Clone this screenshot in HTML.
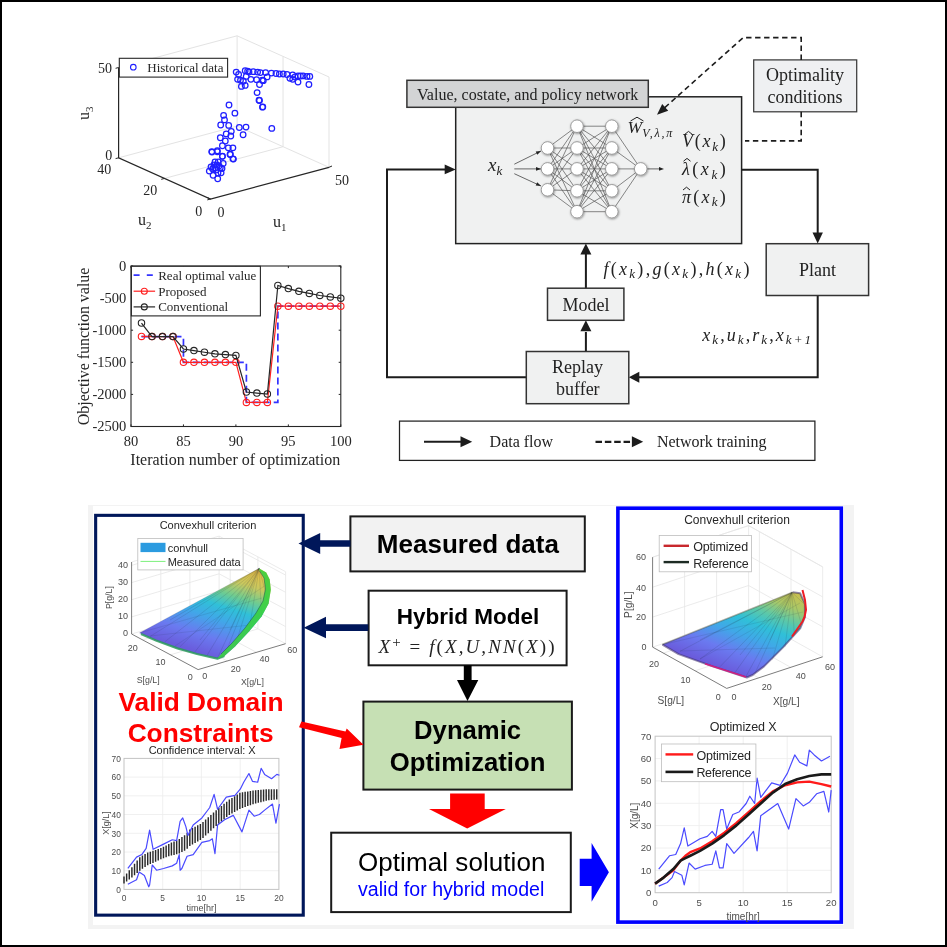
<!DOCTYPE html><html><head><meta charset="utf-8"><style>html,body{margin:0;padding:0;background:#fff;width:947px;height:947px;overflow:hidden}svg{display:block;filter:blur(0.3px)}</style></head><body>
<svg width="947" height="947" viewBox="0 0 947 947">
<rect x="0" y="0" width="947" height="947" fill="#fff"/>
<path d="M118.6,67.50000000000001 L237.1,35.800000000000026 L329.0,77.00000000000001 L329.0,167.3 M237.1,35.800000000000026 L237.1,126.10000000000002 M118.6,157.8 L237.1,126.10000000000002 L329.0,167.3" stroke="#e3e3e3" stroke-width="1" fill="none"/>
<path d="M164.55,178.4 L283.05,146.70000000000002 L283.05,56.40000000000002" stroke="#e3e3e3" stroke-width="1" fill="none"/>
<path d="M118.6,67.50000000000001 L118.6,157.8 L210.5,199.0 L329.0,167.3" stroke="#262626" stroke-width="1.2" fill="none"/>
<path d="M118.6,67.50000000000001 l-3,0.8 M118.6,157.8 l-3,0.8 M164.55,178.4 l-3.3,0.9 M210.5,199.0 l-3.2,0.9 M210.5,199.0 l-3.3,-1.5 M329.0,167.3 l3,-1.3" stroke="#262626" stroke-width="1" fill="none"/>
<g fill="none" stroke="#1f1fff" stroke-width="1.25"><circle cx="229" cy="105" r="2.8"/><circle cx="234.9" cy="113.2" r="2.8"/><circle cx="259.5" cy="100.5" r="2.8"/><circle cx="262.5" cy="107.2" r="2.8"/><circle cx="223.6" cy="115.3" r="2.8"/><circle cx="224.5" cy="119.9" r="2.8"/><circle cx="220.7" cy="125" r="2.8"/><circle cx="228.7" cy="125.4" r="2.8"/><circle cx="231.3" cy="131.3" r="2.8"/><circle cx="226.2" cy="133.9" r="2.8"/><circle cx="230.8" cy="136" r="2.8"/><circle cx="220.3" cy="137.7" r="2.8"/><circle cx="225.3" cy="141" r="2.8"/><circle cx="222.4" cy="145.7" r="2.8"/><circle cx="228.3" cy="147.8" r="2.8"/><circle cx="232.9" cy="147.8" r="2.8"/><circle cx="211.8" cy="151.6" r="2.8"/><circle cx="217.3" cy="150.7" r="2.8"/><circle cx="222.4" cy="156.2" r="2.8"/><circle cx="230" cy="154.5" r="2.8"/><circle cx="232.9" cy="158.8" r="2.8"/><circle cx="239.3" cy="127.5" r="2.8"/><circle cx="246" cy="127.1" r="2.8"/><circle cx="243.1" cy="134.7" r="2.8"/><circle cx="271.8" cy="128.4" r="2.8"/><circle cx="212" cy="152.1" r="2.8"/><circle cx="217.3" cy="151.7" r="2.8"/><circle cx="222.4" cy="156.3" r="2.8"/><circle cx="230.4" cy="154.2" r="2.8"/><circle cx="233.4" cy="159.1" r="2.8"/><circle cx="218.2" cy="161.8" r="2.8"/><circle cx="223.2" cy="163.5" r="2.8"/><circle cx="213.9" cy="164.8" r="2.8"/><circle cx="220.3" cy="167.7" r="2.8"/><circle cx="209.3" cy="171.1" r="2.8"/><circle cx="212.7" cy="169" r="2.8"/><circle cx="221.1" cy="172.8" r="2.8"/><circle cx="213.1" cy="175.3" r="2.8"/><circle cx="217.7" cy="178.7" r="2.8"/><circle cx="216.9" cy="164.8" r="2.8"/><circle cx="214.8" cy="167.7" r="2.8"/><circle cx="219" cy="166" r="2.8"/><circle cx="216" cy="170" r="2.8"/><circle cx="211" cy="167" r="2.8"/><circle cx="222" cy="168.5" r="2.8"/><circle cx="218" cy="173" r="2.8"/><circle cx="215" cy="162" r="2.8"/><circle cx="236.2" cy="72.1" r="2.8"/><circle cx="238.6" cy="74.5" r="2.8"/><circle cx="245.2" cy="70.7" r="2.8"/><circle cx="247.6" cy="71.2" r="2.8"/><circle cx="253.3" cy="71.7" r="2.8"/><circle cx="257.6" cy="72.1" r="2.8"/><circle cx="260.4" cy="72.6" r="2.8"/><circle cx="265.6" cy="72.6" r="2.8"/><circle cx="271.4" cy="73.1" r="2.8"/><circle cx="279.4" cy="74" r="2.8"/><circle cx="283.2" cy="74" r="2.8"/><circle cx="287" cy="74.5" r="2.8"/><circle cx="292.7" cy="75" r="2.8"/><circle cx="298" cy="75.9" r="2.8"/><circle cx="303.2" cy="75.9" r="2.8"/><circle cx="307" cy="76.4" r="2.8"/><circle cx="309.8" cy="76.4" r="2.8"/><circle cx="308.9" cy="84.5" r="2.8"/><circle cx="298" cy="82.1" r="2.8"/><circle cx="292.7" cy="79.3" r="2.8"/><circle cx="289.9" cy="78.3" r="2.8"/><circle cx="237.6" cy="79.3" r="2.8"/><circle cx="240.5" cy="80.2" r="2.8"/><circle cx="243.3" cy="81.2" r="2.8"/><circle cx="246.2" cy="76.4" r="2.8"/><circle cx="250.9" cy="79.3" r="2.8"/><circle cx="256.6" cy="79.7" r="2.8"/><circle cx="262.3" cy="80.2" r="2.8"/><circle cx="267.1" cy="76.9" r="2.8"/><circle cx="241.4" cy="86.4" r="2.8"/><circle cx="245.2" cy="85.4" r="2.8"/><circle cx="259.5" cy="84.5" r="2.8"/><circle cx="263.3" cy="80.7" r="2.8"/><circle cx="257.1" cy="92.6" r="2.8"/><circle cx="259" cy="100.2" r="2.8"/><circle cx="262.8" cy="106.8" r="2.8"/><circle cx="249" cy="72" r="2.8"/><circle cx="276" cy="73.5" r="2.8"/><circle cx="295" cy="77" r="2.8"/><circle cx="300.5" cy="76" r="2.8"/></g>
<rect x="119.3" y="58.3" width="108.3" height="18.8" fill="#fff" stroke="#262626" stroke-width="1.1"/>
<circle cx="133.3" cy="67.2" r="2.8" fill="none" stroke="#1f1fff" stroke-width="1.1"/>
<text x="147.3" y="72" font-size="13" fill="#262626" style="font-family:'Liberation Serif',serif">Historical data</text>
<g font-size="14" fill="#262626" style="font-family:'Liberation Serif',serif"><text x="112" y="72.5" text-anchor="end">50</text><text x="112.3" y="159.5" text-anchor="end">0</text><text x="104.3" y="174" text-anchor="middle">40</text><text x="150.3" y="195" text-anchor="middle">20</text><text x="198.7" y="215.8" text-anchor="middle">0</text><text x="220.9" y="216.8" text-anchor="middle">0</text><text x="341.9" y="185" text-anchor="middle">50</text></g>
<g font-size="16" fill="#262626" style="font-family:'Liberation Serif',serif"><text x="138" y="225">u<tspan font-size="11" dy="4">2</tspan></text><text x="273" y="227">u<tspan font-size="11" dy="4">1</tspan></text><text transform="translate(89,120) rotate(-90)">u<tspan font-size="11" dy="4">3</tspan></text></g>
<rect x="131" y="266" width="209.8" height="160.5" fill="none" stroke="#262626" stroke-width="1.1"/>
<path d="M131,266.0 l2.1,0 M340.8,266.0 l-2.1,0 M131,298.1 l2.1,0 M340.8,298.1 l-2.1,0 M131,330.2 l2.1,0 M340.8,330.2 l-2.1,0 M131,362.3 l2.1,0 M340.8,362.3 l-2.1,0 M131,394.4 l2.1,0 M340.8,394.4 l-2.1,0 M131,426.5 l2.1,0 M340.8,426.5 l-2.1,0 M131.0,426.5 l0,-2.1 M131.0,266 l0,2.1 M183.45,426.5 l0,-2.1 M183.45,266 l0,2.1 M235.9,426.5 l0,-2.1 M235.9,266 l0,2.1 M288.35,426.5 l0,-2.1 M288.35,266 l0,2.1 M340.8,426.5 l0,-2.1 M340.8,266 l0,2.1 " stroke="#262626" stroke-width="1" fill="none"/>
<path d="M141.49,336.62 L183.45,336.62 L183.45,362.3 L246.39,362.3 L246.39,402.42 L277.86,402.42 L277.86,306.19 L340.8,306.19" stroke="#3333ff" stroke-width="1.7" stroke-dasharray="7,4" fill="none"/>
<path d="M141.49,336.43 L151.98,336.62 L162.47,336.62 L172.96,336.62 L183.45,362.3 L193.94,362.3 L204.43,362.3 L214.92,362.3 L225.41,362.3 L235.9,362.3 L246.39,402.42 L256.88,402.42 L267.37,402.42 L277.86,306.19 L288.35,306.19 L298.84,306.19 L309.33,306.19 L319.82,306.19 L330.31,306.19 L340.8,306.19" stroke="#ff2020" stroke-width="1.2" fill="none"/>
<g fill="none" stroke="#ff2020" stroke-width="1.1"><circle cx="141.49" cy="336.43" r="3.2"/><circle cx="151.98" cy="336.62" r="3.2"/><circle cx="162.47" cy="336.62" r="3.2"/><circle cx="172.96" cy="336.62" r="3.2"/><circle cx="183.45" cy="362.3" r="3.2"/><circle cx="193.94" cy="362.3" r="3.2"/><circle cx="204.43" cy="362.3" r="3.2"/><circle cx="214.92" cy="362.3" r="3.2"/><circle cx="225.41" cy="362.3" r="3.2"/><circle cx="235.9" cy="362.3" r="3.2"/><circle cx="246.39" cy="402.42" r="3.2"/><circle cx="256.88" cy="402.42" r="3.2"/><circle cx="267.37" cy="402.42" r="3.2"/><circle cx="277.86" cy="306.19" r="3.2"/><circle cx="288.35" cy="306.19" r="3.2"/><circle cx="298.84" cy="306.19" r="3.2"/><circle cx="309.33" cy="306.19" r="3.2"/><circle cx="319.82" cy="306.19" r="3.2"/><circle cx="330.31" cy="306.19" r="3.2"/><circle cx="340.8" cy="306.19" r="3.2"/></g>
<path d="M141.49,323.01 L151.98,336.62 L162.47,336.62 L172.96,336.62 L183.45,349.01 L193.94,350.62 L204.43,352.22 L214.92,353.83 L225.41,354.6 L235.9,355.43 L246.39,392.02 L256.88,393.12 L267.37,394.01 L277.86,285.52 L288.35,288.6 L298.84,291.36 L309.33,293.41 L319.82,295.47 L330.31,296.88 L340.8,298.23" stroke="#262626" stroke-width="1.2" fill="none"/>
<g fill="none" stroke="#262626" stroke-width="1.1"><circle cx="141.49" cy="323.01" r="3.2"/><circle cx="151.98" cy="336.62" r="3.2"/><circle cx="162.47" cy="336.62" r="3.2"/><circle cx="172.96" cy="336.62" r="3.2"/><circle cx="183.45" cy="349.01" r="3.2"/><circle cx="193.94" cy="350.62" r="3.2"/><circle cx="204.43" cy="352.22" r="3.2"/><circle cx="214.92" cy="353.83" r="3.2"/><circle cx="225.41" cy="354.6" r="3.2"/><circle cx="235.9" cy="355.43" r="3.2"/><circle cx="246.39" cy="392.02" r="3.2"/><circle cx="256.88" cy="393.12" r="3.2"/><circle cx="267.37" cy="394.01" r="3.2"/><circle cx="277.86" cy="285.52" r="3.2"/><circle cx="288.35" cy="288.6" r="3.2"/><circle cx="298.84" cy="291.36" r="3.2"/><circle cx="309.33" cy="293.41" r="3.2"/><circle cx="319.82" cy="295.47" r="3.2"/><circle cx="330.31" cy="296.88" r="3.2"/><circle cx="340.8" cy="298.23" r="3.2"/></g>
<rect x="131.4" y="266.3" width="129" height="49.6" fill="#fff" stroke="#262626" stroke-width="1.1"/>
<path d="M133.6,275.1 h19.2" stroke="#3333ff" stroke-width="1.6" stroke-dasharray="6,7.2" fill="none"/>
<path d="M133.6,291.2 h21.5" stroke="#ff2020" stroke-width="1.2"/><circle cx="144.3" cy="291.2" r="3" fill="none" stroke="#ff2020" stroke-width="1.1"/>
<path d="M133.6,306.9 h21.5" stroke="#262626" stroke-width="1.2"/><circle cx="144.3" cy="306.9" r="3" fill="none" stroke="#262626" stroke-width="1.1"/>
<g font-size="13" fill="#262626" style="font-family:'Liberation Serif',serif"><text x="158.2" y="280.2">Real optimal value</text><text x="158.2" y="295.5">Proposed</text><text x="158.2" y="311.2">Conventional</text></g>
<g font-size="14.5" fill="#262626" style="font-family:'Liberation Serif',serif"><text x="126.3" y="270.8" text-anchor="end">0</text><text x="126.3" y="302.90000000000003" text-anchor="end">-500</text><text x="126.3" y="335.0" text-anchor="end">-1000</text><text x="126.3" y="367.1" text-anchor="end">-1500</text><text x="126.3" y="399.2" text-anchor="end">-2000</text><text x="126.3" y="431.3" text-anchor="end">-2500</text><text x="131.0" y="445.8" text-anchor="middle">80</text><text x="183.45" y="445.8" text-anchor="middle">85</text><text x="235.9" y="445.8" text-anchor="middle">90</text><text x="288.35" y="445.8" text-anchor="middle">95</text><text x="340.8" y="445.8" text-anchor="middle">100</text></g>
<text x="130.3" y="464.6" font-size="16" textLength="210" fill="#262626" style="font-family:'Liberation Serif',serif">Iteration number of optimization</text>
<text transform="translate(89,425.2) rotate(-90)" font-size="16" textLength="157.6" fill="#262626" style="font-family:'Liberation Serif',serif">Objective function value</text>
<rect x="455.7" y="96.8" width="285.9" height="146.8" fill="#f0f1f1" stroke="#222" stroke-width="1.5"/>
<rect x="406.9" y="80.3" width="241.4" height="27" fill="#d3d4d5" stroke="#333" stroke-width="1.5"/>
<text x="417" y="99.7" font-size="16" textLength="221.3" fill="#222" style="font-family:'Liberation Serif',serif">Value, costate, and policy network</text>
<rect x="753.7" y="59.9" width="103" height="51.9" fill="#eff0f2" stroke="#3a3a3a" stroke-width="1.25"/>
<g font-size="18" text-anchor="middle" fill="#222" style="font-family:'Liberation Serif',serif"><text x="805" y="81.3">Optimality</text><text x="805" y="102.8">conditions</text></g>
<path d="M801.2,59.9 V37.6 H743.2 L662.5,109.6" stroke="#1c1c1c" stroke-width="1.6" stroke-dasharray="5.4,3.6" fill="none"/>
<path d="M657.00,114.70 L662.20,104.01 L668.20,110.72 Z" fill="#1c1c1c"/>
<path d="M801.2,111.8 V140.9 H745" stroke="#1c1c1c" stroke-width="1.6" stroke-dasharray="5.4,3.6" fill="none"/>
<path d="M526.3,377.2 H387 V169.4 H445" stroke="#1c1c1c" stroke-width="2" fill="none"/>
<path d="M455.70,169.40 L444.70,174.20 L444.70,164.60 Z" fill="#1c1c1c"/>
<path d="M741.6,169.7 H817.7 V233" stroke="#1c1c1c" stroke-width="2" fill="none"/>
<path d="M817.70,243.60 L812.50,232.60 L822.90,232.60 Z" fill="#1c1c1c"/>
<path d="M817.7,295.5 V377.2 H639" stroke="#1c1c1c" stroke-width="2" fill="none"/>
<path d="M628.80,377.20 L639.30,371.70 L639.30,382.70 Z" fill="#1c1c1c"/>
<path d="M585.9,351.5 V332 M585.9,288.2 V254" stroke="#1c1c1c" stroke-width="2" fill="none"/>
<path d="M585.90,320.30 L591.40,331.30 L580.40,331.30 Z" fill="#1c1c1c"/>
<path d="M585.90,243.60 L591.40,254.60 L580.40,254.60 Z" fill="#1c1c1c"/>
<rect x="766.2" y="243.7" width="102.4" height="51.8" fill="#f0f1f1" stroke="#333" stroke-width="1.5"/>
<rect x="547.5" y="288.2" width="76.4" height="32.1" fill="#f0f1f1" stroke="#333" stroke-width="1.5"/>
<rect x="526.3" y="351.5" width="102.5" height="52.2" fill="#f0f1f1" stroke="#333" stroke-width="1.5"/>
<g font-size="18" text-anchor="middle" fill="#222" style="font-family:'Liberation Serif',serif"><text x="817.6" y="276">Plant</text><text x="585.9" y="311.3">Model</text><text x="577.5" y="373">Replay</text><text x="577.8" y="394.7">buffer</text></g>
<rect x="399.5" y="421.1" width="415.4" height="39.3" fill="#fff" stroke="#222" stroke-width="1.25"/>
<path d="M424,441.8 H462" stroke="#1c1c1c" stroke-width="2"/><path d="M472.20,441.80 L460.50,447.30 L460.50,436.30 Z" fill="#1c1c1c"/>
<path d="M595.5,441.8 H630.5" stroke="#1c1c1c" stroke-width="2.2" stroke-dasharray="6.5,2.85"/><path d="M643.20,441.80 L631.90,447.30 L631.90,436.30 Z" fill="#1c1c1c"/>
<g font-size="16" fill="#222" style="font-family:'Liberation Serif',serif"><text x="489.6" y="447.2" textLength="63.4">Data flow</text><text x="657" y="447.2" textLength="109.4">Network training</text></g>
<path d="M547.5,148 L577,126.2 M547.5,148 L577,148 M547.5,148 L577,168.9 M547.5,148 L577,190.8 M547.5,148 L577,211.7 M547.5,168.9 L577,126.2 M547.5,168.9 L577,148 M547.5,168.9 L577,168.9 M547.5,168.9 L577,190.8 M547.5,168.9 L577,211.7 M547.5,189.8 L577,126.2 M547.5,189.8 L577,148 M547.5,189.8 L577,168.9 M547.5,189.8 L577,190.8 M547.5,189.8 L577,211.7 M577,126.2 L611.8,126.2 M577,126.2 L611.8,148 M577,126.2 L611.8,168.9 M577,126.2 L611.8,190.8 M577,126.2 L611.8,211.7 M577,148 L611.8,126.2 M577,148 L611.8,148 M577,148 L611.8,168.9 M577,148 L611.8,190.8 M577,148 L611.8,211.7 M577,168.9 L611.8,126.2 M577,168.9 L611.8,148 M577,168.9 L611.8,168.9 M577,168.9 L611.8,190.8 M577,168.9 L611.8,211.7 M577,190.8 L611.8,126.2 M577,190.8 L611.8,148 M577,190.8 L611.8,168.9 M577,190.8 L611.8,190.8 M577,190.8 L611.8,211.7 M577,211.7 L611.8,126.2 M577,211.7 L611.8,148 M577,211.7 L611.8,168.9 M577,211.7 L611.8,190.8 M577,211.7 L611.8,211.7 M611.8,126.2 L640.7,168.9 M611.8,148 L640.7,168.9 M611.8,168.9 L640.7,168.9 M611.8,190.8 L640.7,168.9 M611.8,211.7 L640.7,168.9 " stroke="#555" stroke-width="0.7" fill="none"/>
<path d="M514.3,164.2 L541,151" stroke="#444" stroke-width="0.8"/><path d="M541.00,151.00 L537.32,154.83 L535.72,151.60 Z" fill="#222"/>
<path d="M514.3,168.9 L541,168.9" stroke="#444" stroke-width="0.8"/><path d="M541.00,168.90 L536.00,170.70 L536.00,167.10 Z" fill="#222"/>
<path d="M514.3,173.7 L541,186" stroke="#444" stroke-width="0.8"/><path d="M541.00,186.00 L535.71,185.54 L537.21,182.27 Z" fill="#222"/>
<path d="M647.3,168.9 H660" stroke="#444" stroke-width="0.8"/><path d="M664.00,168.90 L659.00,170.70 L659.00,167.10 Z" fill="#222"/>
<defs><filter id="sh" x="-50%" y="-50%" width="200%" height="200%"><feDropShadow dx="0.6" dy="0.8" stdDeviation="0.8" flood-color="#000" flood-opacity="0.45"/></filter></defs>
<g fill="#fff" stroke="#888" stroke-width="0.8" filter="url(#sh)"><circle cx="547.5" cy="148" r="6.3"/><circle cx="547.5" cy="168.9" r="6.3"/><circle cx="547.5" cy="189.8" r="6.3"/><circle cx="577" cy="126.2" r="6.3"/><circle cx="577" cy="148" r="6.3"/><circle cx="577" cy="168.9" r="6.3"/><circle cx="577" cy="190.8" r="6.3"/><circle cx="577" cy="211.7" r="6.3"/><circle cx="611.8" cy="126.2" r="6.3"/><circle cx="611.8" cy="148" r="6.3"/><circle cx="611.8" cy="168.9" r="6.3"/><circle cx="611.8" cy="190.8" r="6.3"/><circle cx="611.8" cy="211.7" r="6.3"/><circle cx="640.7" cy="168.9" r="6.3"/></g>
<text x="488" y="171" font-size="19" fill="#222" style="font-family:'Liberation Serif',serif;font-style:italic">x<tspan font-size="13" dy="3.6">k</tspan></text>
<text x="627.6" y="132.8" font-size="17.5" fill="#222" style="font-family:'Liberation Serif',serif;font-style:italic">W<tspan font-size="12" dy="4.4" textLength="30">V,λ,π</tspan></text>
<path d="M630.5,121 L637,117.2 L643.5,121" stroke="#222" stroke-width="1" fill="none"/>
<text x="682" y="147.4" font-size="18" textLength="43.7" fill="#222" style="font-family:'Liberation Serif',serif;font-style:italic">V<tspan style="font-style:normal">(</tspan>x<tspan font-size="13" dy="3.3">k</tspan><tspan dy="-3.3" style="font-style:normal">)</tspan></text>
<text x="682" y="175.3" font-size="18" textLength="43.7" fill="#222" style="font-family:'Liberation Serif',serif;font-style:italic">λ<tspan style="font-style:normal">(</tspan>x<tspan font-size="13" dy="3.3">k</tspan><tspan dy="-3.3" style="font-style:normal">)</tspan></text>
<text x="682" y="203.1" font-size="18" textLength="43.7" fill="#222" style="font-family:'Liberation Serif',serif;font-style:italic">π<tspan style="font-style:normal">(</tspan>x<tspan font-size="13" dy="3.3">k</tspan><tspan dy="-3.3" style="font-style:normal">)</tspan></text>
<path d="M685,134.2 L688.5,131.4 L692,134.2 M683.5,161.2 L687,158.4 L690.5,161.2 M683,190 L686.5,187.2 L690,190" stroke="#222" stroke-width="1" fill="none"/>
<text x="603.4" y="275" font-size="18" textLength="146" fill="#222" style="font-family:'Liberation Serif',serif;font-style:italic">f<tspan style="font-style:normal">(</tspan>x<tspan font-size="13" dy="3.3">k</tspan><tspan dy="-3.3" style="font-style:normal">),</tspan>g<tspan style="font-style:normal">(</tspan>x<tspan font-size="13" dy="3.3">k</tspan><tspan dy="-3.3" style="font-style:normal">),</tspan>h<tspan style="font-style:normal">(</tspan>x<tspan font-size="13" dy="3.3">k</tspan><tspan dy="-3.3" style="font-style:normal">)</tspan></text>
<text x="702.2" y="341" font-size="18" textLength="108.8" fill="#222" style="font-family:'Liberation Serif',serif;font-style:italic">x<tspan font-size="13" dy="3.3">k</tspan><tspan dy="-3.3" style="font-style:normal">,</tspan>u<tspan font-size="13" dy="3.3">k</tspan><tspan dy="-3.3" style="font-style:normal">,</tspan>r<tspan font-size="13" dy="3.3">k</tspan><tspan dy="-3.3" style="font-style:normal">,</tspan>x<tspan font-size="13" dy="3.3">k+1</tspan></text>
<rect x="88" y="505" width="766" height="424" fill="#f3f3f3"/>
<rect x="93" y="506" width="751" height="419" fill="#fff"/>
<rect x="95.65" y="515.35" width="207.6" height="399.8" fill="#fff" stroke="#00175a" stroke-width="3.1"/>
<rect x="617.9" y="508.2" width="223.4" height="413.9" fill="#fff" stroke="#0000ff" stroke-width="3.6"/>
<rect x="350.4" y="516.4" width="234.4" height="55" fill="#f2f2f2" stroke="#1a1a1a" stroke-width="2"/>
<text x="467.9" y="553.4" font-size="26" text-anchor="middle" fill="#000" style="font-family:'Liberation Sans',sans-serif;font-weight:bold">Measured data</text>
<rect x="368.6" y="590.7" width="198" height="74.6" fill="#fff" stroke="#1a1a1a" stroke-width="2"/>
<text x="467.9" y="623.5" font-size="22.5" text-anchor="middle" fill="#000" style="font-family:'Liberation Sans',sans-serif;font-weight:bold">Hybrid Model</text>
<text x="378.5" y="653" font-size="19" textLength="176" lengthAdjust="spacing" fill="#222" style="font-family:'Liberation Serif',serif;font-style:italic">X<tspan font-size="15" dy="-6.5" style="font-style:normal">+</tspan><tspan dy="6.5" style="font-style:normal"> = </tspan>f<tspan style="font-style:normal">(</tspan>X,U,NN<tspan style="font-style:normal">(</tspan>X<tspan style="font-style:normal">))</tspan></text>
<rect x="363.4" y="701.6" width="208.5" height="88" fill="#c6e0b4" stroke="#1a1a1a" stroke-width="2"/>
<g font-size="25.7" text-anchor="middle" fill="#000" style="font-family:'Liberation Sans',sans-serif;font-weight:bold"><text x="467.6" y="739.1">Dynamic</text><text x="467.6" y="770.8">Optimization</text></g>
<rect x="331.2" y="832.7" width="239.6" height="79.4" fill="#fff" stroke="#1a1a1a" stroke-width="2"/>
<text x="451.7" y="870.6" font-size="26" text-anchor="middle" textLength="187.5" fill="#000" style="font-family:'Liberation Sans',sans-serif">Optimal solution</text>
<text x="451.2" y="895.9" font-size="19.6" text-anchor="middle" textLength="186.3" fill="#0000ff" style="font-family:'Liberation Sans',sans-serif">valid for hybrid model</text>
<path d="M350.4,540.3 H320.2 V533 L298.5,543.6 L320.2,554 V546.8 H350.4 Z" fill="#00175a"/>
<path d="M368.2,624.3 H326 V616.7 L303.7,627.7 L326,638.3 V631.1 H368.2 Z" fill="#00175a"/>
<path d="M463.8,665.3 H471.6 V679.9 H478.3 L467.5,701 L457,679.9 H463.8 Z" fill="#000"/>
<path d="M450.1,793.5 H484.7 V809.1 H505.8 L467.2,828.6 L429,809.1 H450.1 Z" fill="#f00"/>
<path d="M579.7,858.7 H591.6 V843 L608.9,872.2 L591.6,901.8 V886.1 H579.7 Z" fill="#00f"/>
<path d="M301.4,721.5 L345.5,731.6 L346.7,728.5 L363.5,744.7 L339.5,749 L341.6,738 L299,727.3 Z" fill="#f00"/>
<g font-size="26.3" text-anchor="middle" fill="#f00" style="font-family:'Liberation Sans',sans-serif;font-weight:bold"><text x="201" y="710.9">Valid Domain</text><text x="200.7" y="742">Constraints</text></g>
<text x="208" y="528.8" font-size="11" text-anchor="middle" textLength="96.7" fill="#262626" style="font-family:'Liberation Sans',sans-serif">Convexhull criterion</text>
<path d="M131.6,562.0 L219.1,536.1 M219.1,536.1 L285.6,571.7 M219.1,608.1 L219.1,536.1 M285.6,643.7 L285.6,571.7 M131.6,634.0 L219.1,608.1 M219.1,608.1 L285.6,643.7 M227.3,661.0 L160.8,625.4 M160.8,625.4 L160.8,553.4 M256.4,652.3 L189.9,616.7 M189.9,616.7 L189.9,544.7 M170.4,654.8 L257.9,628.9 M257.9,628.9 L257.9,556.9 M142.7,639.9 L230.2,614.0 M230.2,614.0 L230.2,542.0 M131.6,616.9 L219.1,591.0 M219.1,591.0 L285.6,626.6 M131.6,599.7 L219.1,573.8 M219.1,573.8 L285.6,609.4 M131.6,582.6 L219.1,556.7 M219.1,556.7 L285.6,592.3 M131.6,565.4 L219.1,539.5 M219.1,539.5 L285.6,575.1 " stroke="#e6e6e6" stroke-width="0.8" fill="none"/>
<path d="M131.6,562.0 L131.6,634.0 L198.1,669.6 L285.6,643.7" stroke="#5a5a5a" stroke-width="0.8" fill="none"/>
<g font-size="9" fill="#4d4d4d" style="font-family:'Liberation Sans',sans-serif"><text x="123" y="567.5" text-anchor="middle">40</text><text x="123" y="584.6" text-anchor="middle">30</text><text x="123" y="601.9" text-anchor="middle">20</text><text x="123" y="619.2" text-anchor="middle">10</text><text x="125.5" y="636.2" text-anchor="middle">0</text><text x="132.7" y="650.7" text-anchor="middle">20</text><text x="160.4" y="665.1" text-anchor="middle">10</text><text x="190.3" y="679.5" text-anchor="middle">0</text><text x="204.8" y="679.2" text-anchor="middle">0</text><text x="235.8" y="671.7" text-anchor="middle">20</text><text x="264.6" y="662.2" text-anchor="middle">40</text><text x="292.3" y="653.3" text-anchor="middle">60</text></g>
<g font-size="8.8" fill="#4d4d4d" style="font-family:'Liberation Sans',sans-serif"><text x="148.2" y="682.6" text-anchor="middle">S[g/L]</text><text x="252.4" y="684.6" text-anchor="middle">X[g/L]</text><text transform="translate(112.3,597.6) rotate(-90)" text-anchor="middle">P[g/L]</text></g>
<defs><linearGradient id="hg" gradientUnits="userSpaceOnUse" x1="178.5" y1="645.7" x2="209" y2="552.2"><stop offset="0" stop-color="#6a5cdc"/><stop offset="0.18" stop-color="#6a7af0"/><stop offset="0.38" stop-color="#40a8e8"/><stop offset="0.52" stop-color="#30c0d8"/><stop offset="0.66" stop-color="#70cc90"/><stop offset="0.8" stop-color="#c8c860"/><stop offset="1" stop-color="#f0c040"/></linearGradient><linearGradient id="hg2" gradientUnits="userSpaceOnUse" x1="704" y1="661" x2="739.3" y2="571.3"><stop offset="0" stop-color="#6a5cdc"/><stop offset="0.2" stop-color="#6a7af0"/><stop offset="0.4" stop-color="#40a8e8"/><stop offset="0.56" stop-color="#30c0d8"/><stop offset="0.7" stop-color="#5cc8a8"/><stop offset="0.85" stop-color="#a8c868"/><stop offset="1" stop-color="#c8c050"/></linearGradient></defs>
<path d="M139.5,632.9 L259.2,568.4 L266.2,572.4 L269.7,579.4 L270.8,589.8 L268.5,603.8 L261.6,616.6 L248.8,631.7 L234.8,646.8 L224.4,656 L217.4,658.6 L197,654 L177.5,648.4 L156,640.5 Z" fill="url(#hg)"/>
<path d="M259.2,568.4 L139.5,632.9 M259.2,568.4 L150,636.5 M259.2,568.4 L165,641.6 M259.2,568.4 L180,646.7 M259.2,568.4 L195,651.8 M259.2,568.4 L207,655.5 M259.2,568.4 L217.4,658.4 M259.2,568.4 L224.4,656 M259.2,568.4 L234.8,646.8 M259.2,568.4 L248.8,631.7 M259.2,568.4 L261.6,616.6 M259.2,568.4 L268.5,603.8 M259.2,568.4 L170,620 M259.2,568.4 L200,640 M259.2,568.4 L230,630 " stroke="#1a2a40" stroke-opacity="0.2" stroke-width="0.7" fill="none"/>
<path d="M139.5,632.9 L262,598 M175,646 L266,585 M150,636 L250,625" stroke="#1a2a40" stroke-opacity="0.16" stroke-width="0.7" fill="none"/>
<path d="M141,634 L156,640.5 L177.5,648.4 L197,654 L217.4,658.6 L224.4,656" stroke="#2a9a5a" stroke-opacity="0.85" stroke-width="2.2" fill="none" stroke-linejoin="round"/>
<path d="M259.2,568.4 L266.2,572.4 L269.7,579.4 L270.8,589.8 L268.5,603.8 L261.6,616.6 L248.8,631.7 L234.8,646.8 L224.4,656 L217.4,658.4 L221,654 L232,643 L245,628 L256,613 L263,601 L265.5,589 L264,578 L259.2,570 Z" fill="#3ad040" fill-opacity="0.9"/>
<path d="M259.5,571 L264,578 L265.5,589 L263,601 L256,613 L245,628 L232,643 L221,654" stroke="#205a50" stroke-opacity="0.55" stroke-width="1" fill="none"/>
<rect x="137.8" y="538.4" width="105.3" height="31.5" fill="#fff" stroke="#bdbdbd" stroke-width="0.8"/>
<rect x="140.5" y="542.8" width="25" height="9.3" fill="#2b9be0"/><path d="M140.5,561.4 h25" stroke="#7cf07c" stroke-width="1"/>
<g font-size="11" fill="#262626" style="font-family:'Liberation Sans',sans-serif"><text x="167.7" y="551.5">convhull</text><text x="167.7" y="566.4" textLength="73">Measured data</text></g>
<text x="737" y="523.8" font-size="12" text-anchor="middle" textLength="105.7" fill="#262626" style="font-family:'Liberation Sans',sans-serif">Convexhull criterion</text>
<path d="M652.6,557.2 L748.6,525.6 M748.6,525.6 L822.7,566.9 M748.6,615.5 L748.6,525.6 M822.7,656.8 L822.7,566.9 M652.6,647.1 L748.6,615.5 M748.6,615.5 L822.7,656.8 M758.7,677.9 L684.6,636.6 M684.6,636.6 L684.6,546.7 M790.7,667.3 L716.6,626.0 M716.6,626.0 L716.6,536.1 M695.0,670.8 L791.0,639.2 M791.0,639.2 L791.0,549.3 M663.4,653.1 L759.4,621.5 M759.4,621.5 L759.4,531.6 M652.6,617.1 L748.6,585.5 M748.6,585.5 L822.7,626.8 M652.6,587.2 L748.6,555.6 M748.6,555.6 L822.7,596.9 M652.6,557.2 L748.6,525.6 M748.6,525.6 L822.7,566.9 " stroke="#e6e6e6" stroke-width="0.8" fill="none"/>
<path d="M652.6,557.2 L652.6,647.1 L726.7,688.4 L822.7,656.8" stroke="#5a5a5a" stroke-width="0.8" fill="none"/>
<g font-size="9" fill="#4d4d4d" style="font-family:'Liberation Sans',sans-serif"><text x="641" y="560.4" text-anchor="middle">60</text><text x="641" y="590.8" text-anchor="middle">40</text><text x="641" y="620.4" text-anchor="middle">20</text><text x="644" y="650.3" text-anchor="middle">0</text><text x="653.9" y="667.3" text-anchor="middle">20</text><text x="685.4" y="683.1" text-anchor="middle">10</text><text x="718.2" y="700.1" text-anchor="middle">0</text><text x="734" y="700.2" text-anchor="middle">0</text><text x="766.8" y="690.4" text-anchor="middle">20</text><text x="800.8" y="679.4" text-anchor="middle">40</text><text x="830" y="669.7" text-anchor="middle">60</text></g>
<g font-size="10.2" fill="#4d4d4d" style="font-family:'Liberation Sans',sans-serif"><text x="670.9" y="704.2" text-anchor="middle">S[g/L]</text><text x="786.2" y="705.4" text-anchor="middle">X[g/L]</text><text transform="translate(632.2,604.6) rotate(-90)" text-anchor="middle">P[g/L]</text></g>
<path d="M662.4,644.6 L792.6,592.3 L800.2,593.3 L804.9,603.7 L804.9,617 L800.2,628.4 L783,647.4 L764,666.4 L752.6,675 L746.9,677.5 L712.7,666.4 L678.5,654.1 Z" fill="url(#hg2)"/>
<path d="M792,592.4 L662.4,644.6 M792,592.4 L680,651.3 M792,592.4 L700,659 M792,592.4 L720,666.7 M792,592.4 L735,672.5 M792,592.4 L745.5,677.2 M792,592.4 L754.8,673.7 M792,592.4 L772.3,659.8 M792,592.4 L785,647 M792,592.4 L794.3,635.4 M792,592.4 L801.3,623.8 M792,592.4 L805.4,605.2 M792,592.4 L700,640 M792,592.4 L740,655 M792,592.4 L770,640 " stroke="#1a2a40" stroke-opacity="0.2" stroke-width="0.7" fill="none"/>
<path d="M662.4,644.6 L803,612 M700,659 L800,603 M680,651 L775,648" stroke="#1a2a40" stroke-opacity="0.16" stroke-width="0.7" fill="none"/>
<path d="M792.6,592.3 L800.2,593.3 L804.9,603.7 L804.9,617 L800.2,628.4 L783,647.4 L764,666.4 L752.6,675 L746.9,677.5 L712.7,666.4 L678.5,654.1 L662.4,644.6" stroke="#3a2a6a" stroke-opacity="0.55" stroke-width="2" fill="none" stroke-linejoin="round"/>
<path d="M802.5,590.1 L805,600 L806,609.8 L804.5,617 L802.5,621.5 L798,628 L792,636.5" stroke="#ee1c24" stroke-width="2" fill="none" stroke-linejoin="round"/>
<path d="M662.4,644.6 L792.6,592.3" stroke="#505030" stroke-opacity="0.35" stroke-width="1.6" fill="none"/>
<path d="M705,663.8 L746,677" stroke="#d02080" stroke-width="1.6" fill="none"/>
<rect x="659.2" y="535.4" width="92.3" height="36.4" fill="#fff" stroke="#bdbdbd" stroke-width="0.8"/>
<path d="M663.6,545.8 h25.4" stroke="#c8282d" stroke-width="2.4"/><path d="M663.6,562.1 h25.4" stroke="#1d2b24" stroke-width="2.4"/>
<g font-size="12.5" fill="#262626" style="font-family:'Liberation Sans',sans-serif"><text x="693.2" y="551.3" textLength="54.9">Optimized</text><text x="693.2" y="567.8" textLength="55.4">Reference</text></g>
<path d="M162.7,758.4 V889.4 M201.4,758.4 V889.4 M240.2,758.4 V889.4 M124.0,870.7 H278.9 M124.0,852.0 H278.9 M124.0,833.3 H278.9 M124.0,814.5 H278.9 M124.0,795.8 H278.9 M124.0,777.1 H278.9 " stroke="#ececec" stroke-width="0.8" fill="none"/>
<rect x="124.0" y="758.4" width="154.9" height="131.0" fill="none" stroke="#c4c4c4" stroke-width="1"/>
<text x="202.2" y="754.3" font-size="11" text-anchor="middle" textLength="107" fill="#262626" style="font-family:'Liberation Sans',sans-serif">Confidence interval: X</text>
<g font-size="8.4" fill="#4d4d4d" style="font-family:'Liberation Sans',sans-serif"><text x="120.8" y="892.6" text-anchor="end">0</text><text x="120.8" y="873.9" text-anchor="end">10</text><text x="120.8" y="855.2" text-anchor="end">20</text><text x="120.8" y="836.5" text-anchor="end">30</text><text x="120.8" y="817.7" text-anchor="end">40</text><text x="120.8" y="799.0" text-anchor="end">50</text><text x="120.8" y="780.3" text-anchor="end">60</text><text x="120.8" y="761.6" text-anchor="end">70</text><text x="124.0" y="900.5" text-anchor="middle">0</text><text x="162.7" y="900.5" text-anchor="middle">5</text><text x="201.4" y="900.5" text-anchor="middle">10</text><text x="240.2" y="900.5" text-anchor="middle">15</text><text x="278.9" y="900.5" text-anchor="middle">20</text></g>
<g font-size="9" fill="#4d4d4d" style="font-family:'Liberation Sans',sans-serif"><text x="201.4" y="911" text-anchor="middle">time[hr]</text><text transform="translate(108.5,823) rotate(-90)" text-anchor="middle">X[g/L]</text></g>
<path d="M124.00,883.60 L124.00,876.49 M126.63,881.59 L126.63,873.40 M129.27,879.59 L129.27,870.32 M131.90,877.57 L131.90,867.21 M134.53,875.24 L134.53,863.81 M137.17,872.92 L137.17,860.40 M139.80,870.66 L139.80,857.21 M142.43,868.81 L142.43,855.62 M145.07,866.97 L145.07,854.03 M147.70,865.24 L147.70,852.56 M150.33,864.10 L150.33,851.67 M152.97,862.95 L152.97,850.78 M155.60,861.79 L155.60,849.88 M158.23,860.58 L158.23,848.92 M160.87,859.37 L160.87,847.97 M163.50,858.24 L163.50,846.86 M166.13,857.29 L166.13,845.40 M168.77,856.33 L168.77,843.94 M171.40,855.51 L171.40,842.61 M174.03,854.94 L174.03,841.53 M176.67,854.37 L176.67,840.44 M179.30,853.45 L179.30,839.02 M181.93,852.05 L181.93,837.11 M184.57,850.65 L184.57,835.20 M187.20,848.66 L187.20,832.70 M189.83,845.98 L189.83,829.51 M192.47,844.50 L192.47,828.11 M195.10,843.01 L195.10,826.71 M197.73,841.53 L197.73,825.31 M200.37,840.04 L200.37,823.91 M203.00,838.01 L203.00,821.96 M205.63,835.59 L205.63,819.61 M208.27,833.17 L208.27,817.25 M210.90,830.74 L210.90,814.90 M213.53,828.32 L213.53,812.55 M216.17,825.90 L216.17,810.20 M218.80,823.65 L218.80,808.02 M221.43,821.47 L221.43,805.91 M224.07,819.28 L224.07,803.80 M226.70,817.10 L226.70,801.68 M229.33,814.92 L229.33,799.57 M231.97,813.42 L231.97,797.89 M234.60,811.92 L234.60,796.21 M237.23,810.42 L237.23,794.53 M239.87,808.92 L239.87,792.84 M242.50,807.94 L242.50,792.26 M245.13,807.03 L245.13,791.83 M247.77,806.12 L247.77,791.39 M250.40,805.22 L250.40,790.96 M253.03,804.31 L253.03,790.52 M255.66,803.53 L255.66,790.22 M258.30,802.85 L258.30,790.00 M260.93,802.16 L260.93,789.79 M263.56,801.47 L263.56,789.58 M266.20,800.79 L266.20,789.37 M268.83,800.36 L268.83,789.28 M271.46,800.10 L271.46,789.28 M274.10,799.85 L274.10,789.28 M276.73,799.59 L276.73,789.28 " stroke="#2a2a2a" stroke-width="1.45" fill="none"/>
<path d="M127.84,868.49 L136.55,857.16 L141.78,854.55 L146.14,848.45 L149.62,830.15 L153.11,849.32 L163.56,844.09 L172.27,839.74 L176.63,840.61 L180.12,821.44 L182.73,817.96 L185.87,826.67 L187.96,835.38 L193.18,824.93 L201.90,817.96 L207.12,810.99 L209.74,807.50 L214.09,794.43 L217.58,809.24 L226.29,797.05 L235.00,795.30 L240.23,789.21 L243.71,782.24 L248.94,773.52 L252.43,781.36 L257.65,782.24 L261.14,768.30 L264.62,774.39 L271.59,778.75 L276.82,774.39 L279.44,775.27" stroke="#4a4aff" stroke-width="1.2" fill="none" stroke-linejoin="round"/>
<path d="M127.84,884.17 L136.55,879.81 L139.17,871.97 L144.39,875.46 L148.75,886.78 L149.62,885.04 L152.24,865.00 L156.59,870.23 L163.56,868.49 L172.27,865.87 L176.63,863.26 L179.24,854.55 L180.12,870.23 L181.86,868.49 L187.08,856.29 L193.18,854.55 L201.90,842.35 L209.74,840.61 L212.35,838.87 L214.96,853.68 L217.58,824.93 L224.55,819.70 L233.26,815.34 L241.97,831.90 L248.94,810.12 L254.17,816.21 L259.40,814.47 L264.62,810.12 L272.47,804.02 L275.95,823.18 L279.44,804.02" stroke="#4a4aff" stroke-width="1.2" fill="none" stroke-linejoin="round"/>
<path d="M699.1,736.2 V892.7 M743.2,736.2 V892.7 M787.2,736.2 V892.7 M655.1,870.3 H831.2 M655.1,848.0 H831.2 M655.1,825.6 H831.2 M655.1,803.3 H831.2 M655.1,780.9 H831.2 M655.1,758.6 H831.2 " stroke="#ececec" stroke-width="0.8" fill="none"/>
<rect x="655.1" y="736.2" width="176.1" height="156.5" fill="none" stroke="#c4c4c4" stroke-width="1"/>
<text x="743.1" y="731.3" font-size="12.5" text-anchor="middle" textLength="66.8" fill="#262626" style="font-family:'Liberation Sans',sans-serif">Optimized X</text>
<g font-size="9.6" fill="#4d4d4d" style="font-family:'Liberation Sans',sans-serif"><text x="651.4" y="896.1" text-anchor="end">0</text><text x="651.4" y="873.7" text-anchor="end">10</text><text x="651.4" y="851.4" text-anchor="end">20</text><text x="651.4" y="829.0" text-anchor="end">30</text><text x="651.4" y="806.7" text-anchor="end">40</text><text x="651.4" y="784.3" text-anchor="end">50</text><text x="651.4" y="762.0" text-anchor="end">60</text><text x="651.4" y="739.6" text-anchor="end">70</text><text x="655.1" y="906" text-anchor="middle">0</text><text x="699.1" y="906" text-anchor="middle">5</text><text x="743.2" y="906" text-anchor="middle">10</text><text x="787.2" y="906" text-anchor="middle">15</text><text x="831.2" y="906" text-anchor="middle">20</text></g>
<g font-size="10" fill="#4d4d4d" style="font-family:'Liberation Sans',sans-serif"><text x="743.2" y="920" text-anchor="middle">time[hr]</text><text transform="translate(637.8,815.7) rotate(-90)" text-anchor="middle">X[g/L]</text></g>
<path d="M658.72,869.10 L663.58,863.02 L669.65,855.74 L675.72,854.52 L680.58,843.59 L684.23,827.80 L687.87,846.02 L700.01,838.73 L707.30,836.31 L712.16,831.45 L715.80,836.31 L720.66,809.59 L723.09,809.59 L726.73,829.02 L732.80,814.44 L738.88,812.02 L746.16,803.51 L749.81,796.23 L754.66,803.51 L757.09,778.01 L760.74,797.44 L771.67,782.87 L780.17,785.30 L787.46,773.15 L794.74,754.94 L799.60,762.22 L806.89,765.87 L809.32,750.08 L814.17,754.94 L821.46,761.01 L829.96,756.15" stroke="#4a4aff" stroke-width="1.2" fill="none" stroke-linejoin="round"/>
<path d="M658.72,886.10 L667.22,882.46 L672.08,877.60 L674.51,871.53 L679.37,873.95 L681.80,875.17 L684.23,884.88 L689.08,863.02 L695.16,869.10 L704.87,865.45 L712.16,864.24 L715.80,850.88 L719.44,867.88 L723.09,867.88 L726.73,843.59 L734.02,853.31 L748.59,837.52 L753.45,831.45 L757.09,850.88 L760.74,815.66 L777.74,803.51 L788.67,829.02 L795.96,798.66 L803.24,805.94 L809.32,802.30 L816.60,793.80 L823.89,791.37 L828.75,812.02 L831.18,790.16" stroke="#4a4aff" stroke-width="1.2" fill="none" stroke-linejoin="round"/>
<path d="M655.08,883.67 L663.58,877.60 L673.29,870.31 L680.58,860.60 L685.44,855.74 L690.30,852.09 L700.01,848.45 L712.16,841.16 L724.30,832.66 L736.45,822.95 L748.59,812.02 L760.74,801.09 L772.88,791.37 L785.03,785.30 L797.17,782.38 L809.32,781.65 L821.46,784.08 L831.18,786.51" stroke="#ff1a1a" stroke-width="2.4" fill="none" stroke-linejoin="round"/>
<path d="M655.08,883.67 L663.58,877.60 L673.29,869.10 L680.58,860.60 L685.44,858.17 L690.30,855.74 L700.01,850.88 L712.16,843.59 L724.30,835.09 L736.45,825.38 L748.59,814.44 L760.74,803.51 L772.88,792.58 L785.03,784.08 L797.17,779.23 L809.32,776.07 L821.46,774.37 L831.18,774.37" stroke="#1a1a1a" stroke-width="2.6" fill="none" stroke-linejoin="round"/>
<rect x="661.6" y="744" width="94.3" height="37.7" fill="#fff" stroke="#bdbdbd" stroke-width="0.8"/>
<path d="M665.5,754.4 h27.7" stroke="#ff1a1a" stroke-width="2.4"/><path d="M665.5,771.9 h27.7" stroke="#1a1a1a" stroke-width="2.6"/>
<g font-size="12.5" fill="#262626" style="font-family:'Liberation Sans',sans-serif"><text x="696.4" y="759.5" textLength="54.6">Optimized</text><text x="696.4" y="777.2" textLength="55">Reference</text></g>
<rect x="1" y="1" width="945" height="945" fill="none" stroke="#000" stroke-width="2"/>
</svg></body></html>
